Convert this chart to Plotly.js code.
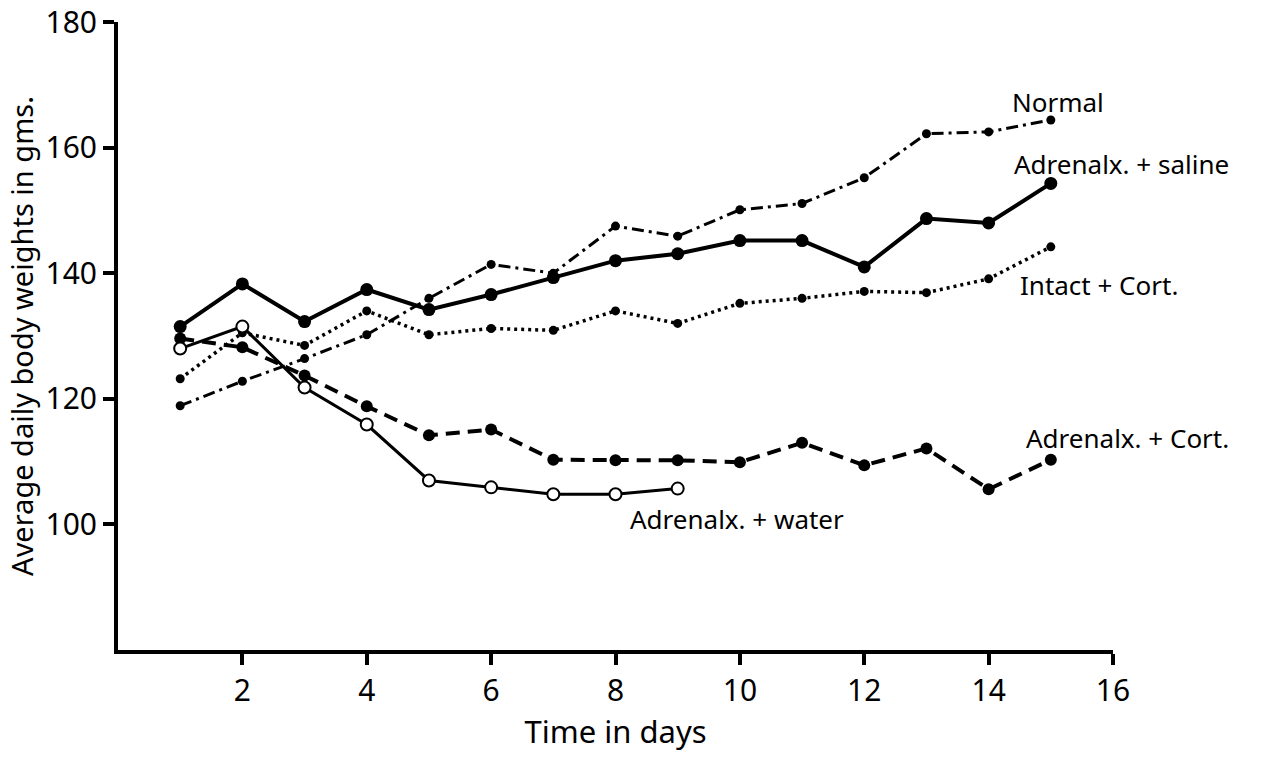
<!DOCTYPE html>
<html>
<head>
<meta charset="utf-8">
<script src="https://cdn.plot.ly/plotly-3.0.1.min.js"></script>
<style>html,body{margin:0;padding:0;background:#fff;}#chart{width:1266px;height:760px;}</style>
</head>
<body>
<div id="chart"></div>
<script>
// Data
const days = [1,2,3,4,5,6,7,8,9,10,11,12,13,14,15];
const daysWater = [1,2,3,4,5,6,7,8,9];
const normal       = [118.9,122.8,126.4,130.2,136.0,141.4,140.0,147.5,145.9,150.1,151.1,155.2,162.2,162.5,164.4];
const adrSaline    = [131.5,138.3,132.3,137.4,134.2,136.6,139.3,142.0,143.1,145.2,145.2,141.0,148.7,148.0,154.3];
const intactCort   = [123.2,130.5,128.5,134.0,130.2,131.2,130.9,134.0,132.0,135.2,136.0,137.1,136.9,139.1,144.2];
const adrCort      = [129.6,128.2,123.7,118.8,114.2,115.1,110.3,110.2,110.2,109.9,113.0,109.4,112.1,105.6,110.3];
const adrWater     = [128.0,131.5,121.8,115.9,107.0,105.9,104.8,104.8,105.7];
const xTicks = [2,4,6,8,10,12,14,16];
const yTicks = [100,120,140,160,180];
const seriesLabels = ["Normal","Adrenalx. + saline","Intact + Cort.","Adrenalx. + Cort.","Adrenalx. + water"];

const FONT = "Noto Sans, DejaVu Sans, sans-serif";
const traces = [
  {x: days, y: normal, name: seriesLabels[0], mode: 'lines+markers',
   line: {color: '#000', width: 3, dash: '12px,5px,3px,5px'},
   marker: {color: '#000', size: 9}},
  {x: days, y: intactCort, name: seriesLabels[2], mode: 'lines+markers',
   line: {color: '#000', width: 3.5, dash: '3px,4px'},
   marker: {color: '#000', size: 9}},
  {x: days, y: adrCort, name: seriesLabels[3], mode: 'lines+markers',
   line: {color: '#000', width: 4, dash: '14px,8px'},
   marker: {color: '#000', size: 12}},
  {x: daysWater, y: adrWater, name: seriesLabels[4], mode: 'lines+markers',
   line: {color: '#000', width: 3},
   marker: {color: '#fff', size: 12, line: {color: '#000', width: 2}}},
  {x: days, y: adrSaline, name: seriesLabels[1], mode: 'lines+markers',
   line: {color: '#000', width: 4},
   marker: {color: '#000', size: 13}}
];

function lab(text, x, y) {
  return {text: text, x: x, y: y, xref: 'x', yref: 'y', xanchor: 'left', yanchor: 'middle',
          showarrow: false, font: {family: FONT, size: 26, color: '#000'}};
}

const layout = {
  width: 1266, height: 760,
  margin: {l: 118, r: 153, t: 22, b: 110},
  paper_bgcolor: '#fff', plot_bgcolor: '#fff',
  showlegend: false,
  font: {family: FONT, color: '#000'},
  xaxis: {
    range: [0, 16], tickvals: xTicks, ticks: 'outside', ticklen: 11, tickwidth: 4, tickcolor: '#000',
    showline: true, linewidth: 4, linecolor: '#000', showgrid: false, zeroline: false,
    tickfont: {family: FONT, size: 30, color: '#000'},
    title: {text: 'Time in days', font: {family: FONT, size: 31, color: '#000'}, standoff: 8}
  },
  yaxis: {
    range: [80, 180], tickvals: yTicks, ticks: 'outside', ticklen: 11, tickwidth: 4, tickcolor: '#000',
    showline: true, linewidth: 4, linecolor: '#000', showgrid: false, zeroline: false,
    tickfont: {family: FONT, size: 30, color: '#000'},
    title: {text: 'Average daily body weights in gms.', font: {family: FONT, size: 29, color: '#000'}, standoff: 4}
  },
  annotations: [
    lab(seriesLabels[0], 14.35, 167.3),
    lab(seriesLabels[1], 14.38, 157.4),
    lab(seriesLabels[2], 14.48, 138.2),
    lab(seriesLabels[3], 14.57, 113.8),
    lab(seriesLabels[4], 8.2, 100.8)
  ]
};

Plotly.newPlot('chart', traces, layout, {displayModeBar: false, staticPlot: true});
</script>
</body>
</html>
